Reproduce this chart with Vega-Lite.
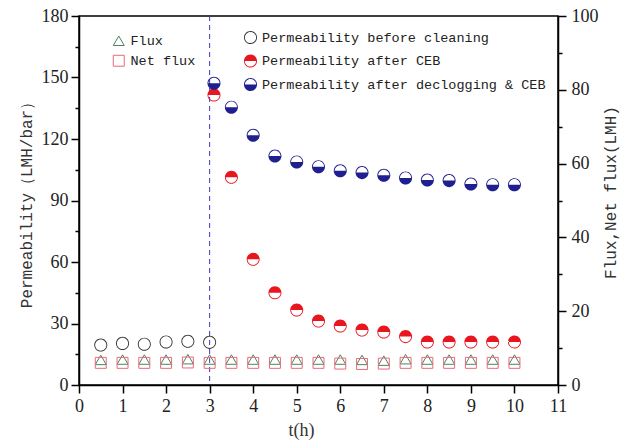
{
  "$schema": "https://vega.github.io/schema/vega-lite/v6.json",
  "width": 479,
  "height": 369,
  "autosize": {"type": "none"},
  "padding": {"left": 79, "top": 16, "right": 74, "bottom": 58},
  "background": "white",
  "config": {
    "view": {"stroke": "black", "strokeWidth": 1.5},
    "axis": {
      "grid": false,
      "domainColor": "black",
      "domainWidth": 1.5,
      "tickColor": "black",
      "tickWidth": 1.5,
      "labelFont": "Liberation Serif",
      "labelFontSize": 18,
      "labelColor": "#222",
      "titleFont": "Liberation Mono",
      "titleFontSize": 16,
      "titleFontWeight": "normal",
      "titleColor": "#333"
    }
  },
  "datasets": {
    "perm": [
      {"t": 0.5, "p": 19.5, "ps": "Permeability before cleaning"},
      {"t": 1.0, "p": 20.3, "ps": "Permeability before cleaning"},
      {"t": 1.5, "p": 19.9, "ps": "Permeability before cleaning"},
      {"t": 2.0, "p": 21.0, "ps": "Permeability before cleaning"},
      {"t": 2.5, "p": 21.3, "ps": "Permeability before cleaning"},
      {"t": 3.0, "p": 20.8, "ps": "Permeability before cleaning"},
      {"t": 3.1, "p": 141.5, "ps": "Permeability after CEB"},
      {"t": 3.5, "p": 101.3, "ps": "Permeability after CEB"},
      {"t": 4.0, "p": 61.3, "ps": "Permeability after CEB"},
      {"t": 4.5, "p": 45.0, "ps": "Permeability after CEB"},
      {"t": 5.0, "p": 36.6, "ps": "Permeability after CEB"},
      {"t": 5.5, "p": 31.2, "ps": "Permeability after CEB"},
      {"t": 6.0, "p": 28.8, "ps": "Permeability after CEB"},
      {"t": 6.5, "p": 26.8, "ps": "Permeability after CEB"},
      {"t": 7.0, "p": 25.9, "ps": "Permeability after CEB"},
      {"t": 7.5, "p": 23.6, "ps": "Permeability after CEB"},
      {"t": 8.0, "p": 21.0, "ps": "Permeability after CEB"},
      {"t": 8.5, "p": 21.0, "ps": "Permeability after CEB"},
      {"t": 9.0, "p": 21.0, "ps": "Permeability after CEB"},
      {"t": 9.5, "p": 21.0, "ps": "Permeability after CEB"},
      {"t": 10.0, "p": 21.0, "ps": "Permeability after CEB"},
      {"t": 3.1, "p": 147.2, "ps": "Permeability after declogging & CEB"},
      {"t": 3.5, "p": 135.5, "ps": "Permeability after declogging & CEB"},
      {"t": 4.0, "p": 121.8, "ps": "Permeability after declogging & CEB"},
      {"t": 4.5, "p": 111.7, "ps": "Permeability after declogging & CEB"},
      {"t": 5.0, "p": 108.8, "ps": "Permeability after declogging & CEB"},
      {"t": 5.5, "p": 106.5, "ps": "Permeability after declogging & CEB"},
      {"t": 6.0, "p": 104.5, "ps": "Permeability after declogging & CEB"},
      {"t": 6.5, "p": 103.6, "ps": "Permeability after declogging & CEB"},
      {"t": 7.0, "p": 102.3, "ps": "Permeability after declogging & CEB"},
      {"t": 7.5, "p": 101.0, "ps": "Permeability after declogging & CEB"},
      {"t": 8.0, "p": 100.0, "ps": "Permeability after declogging & CEB"},
      {"t": 8.5, "p": 99.7, "ps": "Permeability after declogging & CEB"},
      {"t": 9.0, "p": 98.0, "ps": "Permeability after declogging & CEB"},
      {"t": 9.5, "p": 97.7, "ps": "Permeability after declogging & CEB"},
      {"t": 10.0, "p": 97.7, "ps": "Permeability after declogging & CEB"}
    ],
    "flux": [
      {"t": 0.5, "f": 6.8, "fs": "Flux"},
      {"t": 1.0, "f": 6.9, "fs": "Flux"},
      {"t": 1.5, "f": 6.9, "fs": "Flux"},
      {"t": 2.0, "f": 6.9, "fs": "Flux"},
      {"t": 2.5, "f": 7.0, "fs": "Flux"},
      {"t": 3.0, "f": 6.9, "fs": "Flux"},
      {"t": 3.5, "f": 6.9, "fs": "Flux"},
      {"t": 4.0, "f": 6.9, "fs": "Flux"},
      {"t": 4.5, "f": 6.9, "fs": "Flux"},
      {"t": 5.0, "f": 6.9, "fs": "Flux"},
      {"t": 5.5, "f": 6.9, "fs": "Flux"},
      {"t": 6.0, "f": 6.9, "fs": "Flux"},
      {"t": 6.5, "f": 6.8, "fs": "Flux"},
      {"t": 7.0, "f": 6.6, "fs": "Flux"},
      {"t": 7.5, "f": 7.0, "fs": "Flux"},
      {"t": 8.0, "f": 6.9, "fs": "Flux"},
      {"t": 8.5, "f": 6.9, "fs": "Flux"},
      {"t": 9.0, "f": 6.9, "fs": "Flux"},
      {"t": 9.5, "f": 6.9, "fs": "Flux"},
      {"t": 10.0, "f": 6.9, "fs": "Flux"},
      {"t": 0.5, "f": 6.0, "fs": "Net flux"},
      {"t": 1.0, "f": 6.0, "fs": "Net flux"},
      {"t": 1.5, "f": 6.0, "fs": "Net flux"},
      {"t": 2.0, "f": 6.0, "fs": "Net flux"},
      {"t": 2.5, "f": 6.1, "fs": "Net flux"},
      {"t": 3.0, "f": 6.0, "fs": "Net flux"},
      {"t": 3.5, "f": 6.0, "fs": "Net flux"},
      {"t": 4.0, "f": 6.0, "fs": "Net flux"},
      {"t": 4.5, "f": 6.0, "fs": "Net flux"},
      {"t": 5.0, "f": 6.0, "fs": "Net flux"},
      {"t": 5.5, "f": 6.0, "fs": "Net flux"},
      {"t": 6.0, "f": 5.8, "fs": "Net flux"},
      {"t": 6.5, "f": 5.7, "fs": "Net flux"},
      {"t": 7.0, "f": 5.8, "fs": "Net flux"},
      {"t": 7.5, "f": 6.0, "fs": "Net flux"},
      {"t": 8.0, "f": 6.0, "fs": "Net flux"},
      {"t": 8.5, "f": 6.0, "fs": "Net flux"},
      {"t": 9.0, "f": 6.0, "fs": "Net flux"},
      {"t": 9.5, "f": 6.0, "fs": "Net flux"},
      {"t": 10.0, "f": 6.0, "fs": "Net flux"}
    ],
    "marker": [{"t": 3}]
  },
  "layer": [
    {
      "data": {"name": "marker"},
      "mark": {"type": "rule", "color": "#3a3ab8", "strokeDash": [5, 4], "strokeWidth": 1},
      "encoding": {
        "x": {"field": "t", "type": "quantitative", "scale": {"domain": [0, 11], "nice": false, "zero": false},
          "axis": {
            "values": [0, 0.5, 1, 1.5, 2, 2.5, 3, 3.5, 4, 4.5, 5, 5.5, 6, 6.5, 7, 7.5, 8, 8.5, 9, 9.5, 10, 10.5, 11],
            "labelExpr": "datum.value % 1 === 0 ? datum.label : ''",
            "tickSize": {"condition": {"test": "datum.value % 1 === 0", "value": 8}, "value": 4},
            "labelPadding": 4,
            "title": "t(h)",
            "titleFont": "Liberation Serif",
            "titleFontSize": 18,
            "titlePadding": 6,
            "titleX": 222,
            "labelFlush": false,
            "labelOverlap": false
          }}
      }
    },
    {
      "data": {"name": "perm"},
      "mark": {"type": "point", "filled": true, "size": 170, "opacity": 1},
      "encoding": {
        "x": {"field": "t", "type": "quantitative"},
        "y": {"field": "p", "type": "quantitative", "scale": {"domain": [0, 180], "nice": false},
          "axis": {
            "orient": "left",
            "values": [0, 15, 30, 45, 60, 75, 90, 105, 120, 135, 150, 165, 180],
            "labelExpr": "datum.value % 30 === 0 ? datum.label : ''",
            "tickSize": {"condition": {"test": "datum.value % 30 === 0", "value": 8}, "value": 4},
            "labelPadding": 3,
            "title": "Permeability（LMH/bar）",
            "titlePadding": 7,
            "labelOverlap": false,
            "labelFlush": false
          }},
        "color": {"field": "ps", "type": "nominal",
          "scale": {"domain": ["Permeability before cleaning", "Permeability after CEB", "Permeability after declogging & CEB"], "range": ["#333333", "#e8161e", "#1f1f8f"]},
          "legend": {"orient": "none", "legendX": 164, "legendY": 14, "title": null, "padding": 0, "labelFont": "Liberation Mono", "labelFontSize": 13.5, "labelColor": "#222", "labelLimit": 0, "symbolSize": 170, "rowPadding": 2.5, "labelOffset": 4, "symbolOpacity": 1}},
        "shape": {"field": "ps", "type": "nominal",
          "scale": {"domain": ["Permeability before cleaning", "Permeability after CEB", "Permeability after declogging & CEB"],
            "range": [
              "M1,0A1,1,0,1,1,-1,0A1,1,0,1,1,1,0ZM0.86,0A0.86,0.86,0,1,0,-0.86,0A0.86,0.86,0,1,0,0.86,0Z",
              "M1,0A1,1,0,1,1,-1,0A1,1,0,1,1,1,0ZM0.86,0A0.86,0.86,0,1,0,-0.86,0A0.86,0.86,0,1,0,0.86,0ZM-0.86,0A0.86,0.86,0,0,1,0.86,0Z",
              "M1,0A1,1,0,1,1,-1,0A1,1,0,1,1,1,0ZM0.86,0A0.86,0.86,0,1,0,-0.86,0A0.86,0.86,0,1,0,0.86,0ZM-0.86,0A0.86,0.86,0,0,0,0.86,0Z"
            ]},
          "legend": {"orient": "none", "legendX": 164, "legendY": 14, "title": null, "padding": 0, "labelFont": "Liberation Mono", "labelFontSize": 13.5, "labelColor": "#222", "labelLimit": 0, "symbolSize": 170, "rowPadding": 2.5, "labelOffset": 4, "symbolOpacity": 1}}
      }
    },
    {
      "data": {"name": "flux"},
      "mark": {"type": "point", "filled": false, "size": 120, "strokeWidth": 1, "opacity": 1},
      "encoding": {
        "x": {"field": "t", "type": "quantitative"},
        "y": {"field": "f", "type": "quantitative", "scale": {"domain": [0, 100], "nice": false},
          "axis": {
            "orient": "right",
            "values": [0, 10, 20, 30, 40, 50, 60, 70, 80, 90, 100],
            "labelExpr": "datum.value % 20 === 0 ? datum.label : ''",
            "tickSize": {"condition": {"test": "datum.value % 20 === 0", "value": 8}, "value": 4},
            "labelPadding": 5,
            "title": "Flux,Net flux(LMH)",
            "titleAngle": 270,
            "titlePadding": 20,
            "titleY": 176,
            "labelOverlap": false,
            "labelFlush": false
          }},
        "color": {"field": "fs", "type": "nominal",
          "scale": {"domain": ["Flux", "Net flux"], "range": ["#4f8060", "#e86a78"]},
          "legend": {"orient": "none", "legendX": 33, "legendY": 18, "title": null, "padding": 0, "labelFont": "Liberation Mono", "labelFontSize": 13.5, "labelColor": "#222", "labelLimit": 0, "symbolSize": 120, "rowPadding": 5, "labelOffset": 5, "symbolStrokeWidth": 1, "symbolOpacity": 1}},
        "shape": {"field": "fs", "type": "nominal",
          "scale": {"domain": ["Flux", "Net flux"], "range": ["triangle-up", "square"]},
          "legend": {"orient": "none", "legendX": 33, "legendY": 18, "title": null, "padding": 0, "labelFont": "Liberation Mono", "labelFontSize": 13.5, "labelColor": "#222", "labelLimit": 0, "symbolSize": 120, "rowPadding": 5, "labelOffset": 5, "symbolStrokeWidth": 1, "symbolOpacity": 1}}
      }
    }
  ],
  "resolve": {"scale": {"y": "independent", "color": "independent", "shape": "independent"}}
}
